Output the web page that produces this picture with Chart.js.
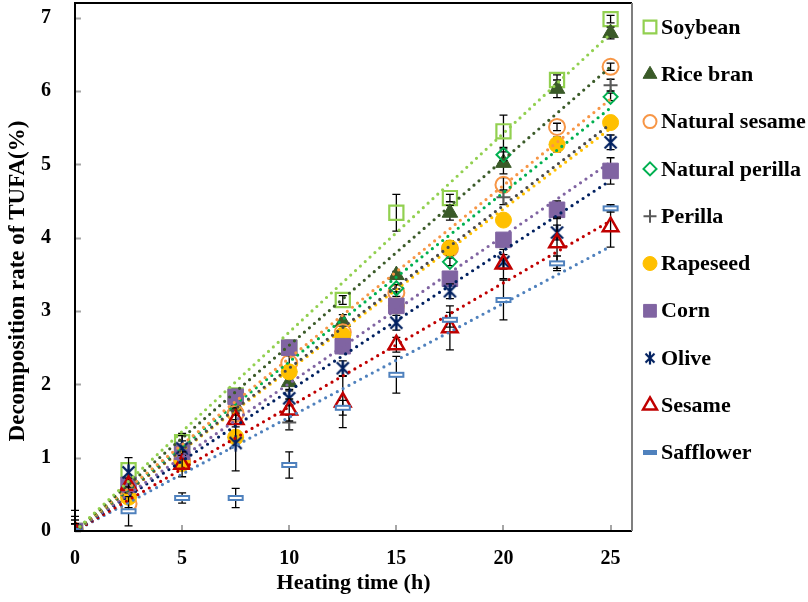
<!DOCTYPE html>
<html>
<head>
<meta charset="utf-8">
<script src="https://cdn.jsdelivr.net/npm/chart.js"></script>
<style>
  html, body { margin: 0; padding: 0; background: #fff; }
</style>
</head>
<body>
<canvas id="tufaChart" width="808" height="602"></canvas>
<script>
// heating time (h)
const heatingTime = [0, 2.5, 5, 7.5, 10, 12.5, 15, 17.5, 20, 22.5, 25];

// decomposition rate of TUFA (%) per oil
const soybean        = [0, 0.83, 1.21, 1.85, 2.50, 3.15, 4.34, 4.54, 5.45, 6.15, 6.98];
const riceBran       = [0, 0.55, 1.10, 1.70, 2.03, 2.85, 3.49, 4.34, 5.02, 6.03, 6.79];
const naturalSesame  = [0, 0.37, 0.95, 1.60, 2.29, 2.71, 3.25, 3.85, 4.72, 5.51, 6.33];
const naturalPerilla = [0, 0.46, 0.92, 1.28, 2.17, 2.67, 3.31, 3.67, 5.13, 5.27, 5.92];
const perilla        = [0, 0.63, 1.08, 1.83, 1.48, 2.52, 3.07, 3.86, 4.55, 5.27, 6.08];
const rapeseed       = [0, 0.46, 0.92, 1.28, 2.17, 2.67, 3.07, 3.86, 4.24, 5.27, 5.57];
const corn           = [0, 0.63, 1.08, 1.83, 2.50, 2.52, 3.07, 3.44, 3.97, 4.38, 4.91];
const olive          = [0, 0.80, 1.13, 1.20, 1.81, 2.22, 2.84, 3.27, 3.67, 4.07, 5.30];
const sesame         = [0, 0.62, 0.91, 1.52, 1.65, 1.76, 2.54, 2.77, 3.64, 3.93, 4.15];
const safflower      = [0, 0.27, 0.45, 0.45, 0.90, 1.68, 2.13, 2.88, 3.15, 3.65, 4.40];

// error bar half-lengths
const soybeanErr        = [0.28, 0.10, 0.12, 0.08, 0.10, 0.06, 0.25, 0.05, 0.22, 0.07, 0.05];
const riceBranErr       = [0.20, 0.10, 0.20, 0.10, 0.10, 0.10, 0.05, 0.10, 0.15, 0.12, 0.08];
const naturalSesameErr  = [0.10, 0.05, 0.10, 0.08, 0.10, 0.05, 0.05, 0.05, 0.10, 0.05, 0.05];
const naturalPerillaErr = [0.10, 0.05, 0.08, 0.05, 0.05, 0.05, 0.05, 0.05, 0.08, 0.05, 0.05];
const perillaErr        = [0.15, 0.05, 0.10, 0.10, 0.10, 0.10, 0.05, 0.10, 0.10, 0.10, 0.08];
const rapeseedErr       = [0.10, 0.05, 0.05, 0.05, 0.05, 0.05, 0.05, 0.05, 0.05, 0.05, 0.05];
const cornErr           = [0.10, 0.05, 0.05, 0.05, 0.05, 0.05, 0.05, 0.05, 0.05, 0.12, 0.18];
const oliveErr          = [0.10, 0.20, 0.10, 0.38, 0.10, 0.10, 0.10, 0.10, 0.10, 0.10, 0.10];
const sesameErr         = [0.10, 0.10, 0.17, 0.10, 0.15, 0.35, 0.10, 0.30, 0.20, 0.35, 0.28];
const safflowerErr      = [0.10, 0.20, 0.07, 0.13, 0.18, 0.10, 0.25, 0.10, 0.27, 0.10, 0.05];

// linear trend (through origin) value at 25 h
const trendEnd = [6.78, 6.33, 5.89, 5.77, 5.55, 5.49, 5.03, 4.78, 4.23, 3.88];

const seriesNames = ['Soybean', 'Rice bran', 'Natural sesame', 'Natural perilla', 'Perilla',
                     'Rapeseed', 'Corn', 'Olive', 'Sesame', 'Safflower'];
const yTicks = [0, 1, 2, 3, 4, 5, 6, 7];
const xTicks = [0, 5, 10, 15, 20, 25];
const yTitleText = 'Decomposition rate of TUFA(%)';

const FONT = '"Liberation Serif", "Times New Roman", serif';

// custom markers
function asteriskMark(color, size, lw) {
  const c = document.createElement('canvas');
  c.width = size; c.height = size;
  const g = c.getContext('2d');
  g.strokeStyle = color; g.lineWidth = lw;
  const m = 2.5;
  g.beginPath();
  g.moveTo(m, m); g.lineTo(size - m, size - m);
  g.moveTo(size - m, m); g.lineTo(m, size - m);
  g.moveTo(size / 2, 0.5); g.lineTo(size / 2, size - 0.5);
  g.stroke();
  return c;
}
function dashMark(color) {
  const c = document.createElement('canvas');
  c.width = 18; c.height = 8;
  const g = c.getContext('2d');
  g.fillStyle = color;
  g.fillRect(1, 1, 16, 6);
  g.fillStyle = '#fff';
  g.fillRect(3, 3, 12, 2);
  return c;
}
function legendDash(color) {
  const c = document.createElement('canvas');
  c.width = 14; c.height = 5;
  const g = c.getContext('2d');
  g.fillStyle = color;
  g.fillRect(0, 0, 14, 5);
  return c;
}

const styles = [
  { color: '#92D050', line: '#92D050', style: 'rect', r: 10, fill: 'rgba(0,0,0,0)', bw: 2.2, lr: 9 },
  { color: '#3A5A28', line: '#3A5A28', style: 'triangle', r: 9, fill: '#3A5A28', bw: 1, lr: 8 },
  { color: '#F79646', line: '#F79646', style: 'circle', r: 8, fill: 'rgba(0,0,0,0)', bw: 2, lr: 6.5 },
  { color: '#00B050', line: '#00B050', style: 'rectRot', r: 7, fill: 'rgba(0,0,0,0)', bw: 2, lr: 6.5 },
  { color: '#595959', line: '#4A4A4A', style: 'cross', r: 7, fill: '#595959', bw: 2, lr: 6.5 },
  { color: '#FFC000', line: '#FFC000', style: 'circle', r: 8, fill: '#FFC000', bw: 1, lr: 7 },
  { color: '#8064A2', line: '#8064A2', style: 'rect', r: 11, fill: '#8064A2', bw: 1, lr: 9 },
  { color: '#002060', line: '#002060', style: asteriskMark('#002060', 17, 2.3), fill: '#002060', bw: 1,
    legend: asteriskMark('#002060', 14, 2.2) },
  { color: '#C00000', line: '#C00000', style: 'triangle', r: 9, fill: 'rgba(0,0,0,0)', bw: 2.5, lr: 8 },
  { color: '#4F81BD', line: '#4F81BD', style: dashMark('#4F81BD'), fill: '#4F81BD', bw: 1,
    legend: legendDash('#4F81BD') }
];

const seriesValues = [soybean, riceBran, naturalSesame, naturalPerilla, perilla,
                      rapeseed, corn, olive, sesame, safflower];
const seriesErrors = [soybeanErr, riceBranErr, naturalSesameErr, naturalPerillaErr, perillaErr,
                      rapeseedErr, cornErr, oliveErr, sesameErr, safflowerErr];

const datasets = [];
seriesValues.forEach((vals, i) => {
  const s = styles[i];
  datasets.push({
    label: seriesNames[i],
    data: heatingTime.map((x, j) => ({ x: x, y: vals[j] })),
    errors: seriesErrors[i],
    pointStyle: s.style,
    pointRadius: s.r || 8,
    pointBackgroundColor: s.fill,
    pointBorderColor: s.color,
    pointBorderWidth: s.bw,
    showLine: false,
    order: 10 - i
  });
});
trendEnd.forEach((end, i) => {
  datasets.push({
    label: seriesNames[i] + ' trend',
    isTrend: true,
    data: [{ x: heatingTime[0], y: 0 }, { x: heatingTime[heatingTime.length - 1], y: end }],
    showLine: true,
    pointRadius: 0,
    borderColor: styles[i].line,
    borderWidth: 3.2,
    borderDash: [0, 6.6],
    borderCapStyle: 'round',
    order: 0
  });
});

// error bars, drawn right before each series' markers
const errorBars = {
  id: 'errorBars',
  beforeDatasetDraw(chart, args) {
    const ds = chart.data.datasets[args.index];
    if (!ds.errors) return;
    const ctx = chart.ctx, y = chart.scales.y;
    ctx.save();
    ctx.strokeStyle = '#000';
    ctx.lineWidth = 1.3;
    args.meta.data.forEach((pt, j) => {
      const e = ds.errors[j];
      const v = ds.data[j].y;
      const top = y.getPixelForValue(v + e);
      const bot = y.getPixelForValue(Math.max(v - e, 0));
      ctx.beginPath();
      ctx.moveTo(pt.x, top); ctx.lineTo(pt.x, bot);
      ctx.moveTo(pt.x - 4, top); ctx.lineTo(pt.x + 4, top);
      if (v - e > 0) { ctx.moveTo(pt.x - 4, bot); ctx.lineTo(pt.x + 4, bot); }
      ctx.stroke();
    });
    ctx.restore();
  }
};

// plot frame with inside tick marks, plus the y axis title
const frame = {
  id: 'frame',
  afterDraw(chart) {
    const { ctx, chartArea: a, scales } = chart;
    ctx.save();
    ctx.strokeStyle = '#A6A6A6';
    ctx.lineWidth = 2;
    ctx.beginPath();
    yTicks.forEach(t => {
      const py = Math.round(scales.y.getPixelForValue(t)) + 0.5;
      ctx.moveTo(a.left, py); ctx.lineTo(a.left + 6, py);
    });
    xTicks.slice(1).forEach(t => {
      const px = Math.round(scales.x.getPixelForValue(t));
      ctx.moveTo(px, a.bottom); ctx.lineTo(px, a.bottom - 6);
    });
    ctx.stroke();
    ctx.lineWidth = 2;
    ctx.strokeStyle = '#000';
    ctx.beginPath();
    ctx.moveTo(a.right, a.top); ctx.lineTo(a.left, a.top);
    ctx.lineTo(a.left, a.bottom); ctx.lineTo(a.right, a.bottom);
    ctx.stroke();
    ctx.strokeStyle = '#7F7F7F';
    ctx.beginPath();
    ctx.moveTo(a.right, a.top); ctx.lineTo(a.right, a.bottom);
    ctx.stroke();

    // y title (Excel places it a bit below the plot's middle)
    ctx.translate(18, 281);
    ctx.rotate(-Math.PI / 2);
    ctx.fillStyle = '#000';
    ctx.font = 'bold 23px ' + FONT;
    ctx.textAlign = 'center';
    ctx.textBaseline = 'middle';
    ctx.fillText(yTitleText, 0, 0);
    ctx.restore();
  }
};

// legend on the right side
const sideLegend = {
  id: 'sideLegend',
  afterDraw(chart) {
    const ctx = chart.ctx;
    const draw = Chart.helpers && Chart.helpers.drawPoint;
    ctx.save();
    ctx.font = 'bold 22px ' + FONT;
    ctx.textBaseline = 'middle';
    chart.data.datasets.forEach((ds, i) => {
      if (ds.isTrend) return;
      const s = styles[i];
      const y = 27 + i * 47.3;
      const x = 650;
      ctx.fillStyle = s.fill;
      ctx.strokeStyle = s.color;
      ctx.lineWidth = s.bw;
      const img = s.legend || s.style;
      if (typeof img === 'object') {
        ctx.drawImage(img, x - img.width / 2, y - img.height / 2);
      } else if (draw) {
        draw(ctx, { pointStyle: img, radius: s.lr, borderWidth: s.bw, rotation: 0 }, x, y);
      }
      ctx.fillStyle = '#000';
      ctx.fillText(ds.label, 661, y + 1);
    });
    ctx.restore();
  }
};

Chart.defaults.font.family = FONT;
Chart.defaults.color = '#000';

new Chart(document.getElementById('tufaChart'), {
  type: 'scatter',
  data: { datasets: datasets },
  plugins: [errorBars, frame, sideLegend],
  options: {
    responsive: false,
    animation: false,
    layout: { autoPadding: false, padding: { top: 3, right: 176, left: 0, bottom: 0 } },
    plugins: {
      legend: { display: false },
      tooltip: { enabled: false }
    },
    scales: {
      x: {
        type: 'linear',
        min: 0,
        max: 26,
        afterFit(scale) { scale.height = 71; scale.paddingRight = 0; },
        grid: { display: false, drawTicks: false },
        border: { display: false },
        ticks: {
          stepSize: 5,
          includeBounds: false,
          maxRotation: 0,
          padding: 16,
          color: '#000',
          font: { size: 20, weight: 'bold' }
        },
        title: {
          display: true,
          text: 'Heating time (h)',
          color: '#000',
          font: { size: 22, weight: 'bold' },
          padding: { top: 0, bottom: 5 }
        }
      },
      y: {
        min: 0,
        max: 7.2,
        afterFit(scale) { scale.width = 75; scale.paddingTop = 0; scale.paddingBottom = 0; },
        grid: { display: false, drawTicks: false },
        border: { display: false },
        ticks: {
          stepSize: 1,
          includeBounds: false,
          padding: 24,
          color: '#000',
          font: { size: 20, weight: 'bold' }
        }
      }
    }
  }
});
</script>
</body>
</html>
